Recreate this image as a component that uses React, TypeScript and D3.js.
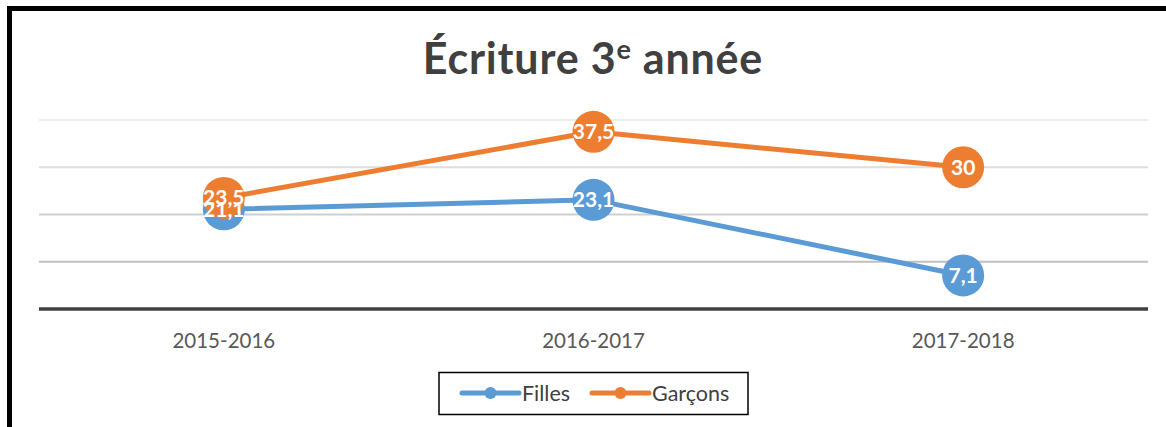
import React from "react";
import * as d3 from "d3";

const categories = ["2015-2016", "2016-2017", "2017-2018"];
const filles = [21.1, 23.1, 7.1];
const garcons = [23.5, 37.5, 30];
const yTicks = [0, 10, 20, 30, 40];
const seriesNames = ["Filles", "Garçons"];
const colors = ["#5B9BD5", "#ED7D31"];

const W = 1166;
const H = 427;
const FONT = "Lato, 'Open Sans', sans-serif";

export default function App() {
  const x = d3.scaleBand<string>().domain(categories).range([39, 1148]);
  const y = d3.scaleLinear().domain([0, 40]).range([309, 120]);
  const cx = (c: string) => (x(c) as number) + x.bandwidth() / 2;
  const line = d3
    .line<number>()
    .x((_, i) => cx(categories[i]))
    .y((d) => y(d));
  const series = [filles, garcons];
  const fmt = (v: number) => String(v).replace(".", ",");
  const gridColors = ["#404040", "#bfbfbf", "#cfcfcf", "#dedede", "#ececec"];

  return (
    <div style={{ position: "fixed", left: 0, top: 0 }}>
      <svg width={W} height={H} style={{ display: "block", background: "#fff" }}>
        <rect x={7} y={6} width={W + 20} height={H + 20} fill="#fff" stroke="#000" strokeWidth={5} transform="translate(2.5,2.5)" />
        <text x={593} y={74} textAnchor="middle" fontFamily={FONT} fontWeight={700} fontSize={43} letterSpacing={0.8} fill="#404040">
          Écriture 3
          <tspan fontSize={27} dy={-15}>e</tspan>
          <tspan dy={15}> année</tspan>
        </text>
        {yTicks.slice(1).map((t, i) => (
          <line key={t} x1={39} x2={1148} y1={y(t)} y2={y(t)} stroke={gridColors[i + 1]} strokeWidth={2} />
        ))}
        <line x1={39} x2={1148} y1={y(0)} y2={y(0)} stroke="#404040" strokeWidth={3.5} />
        {categories.map((c) => (
          <text key={c} x={cx(c)} y={348} textAnchor="middle" fontFamily={FONT} fontSize={20.5} fill="#595959">
            {c}
          </text>
        ))}
        {series.map((s, si) => (
          <g key={si}>
            <path d={line(s) as string} fill="none" stroke={colors[si]} strokeWidth={5} strokeLinejoin="round" />
            {s.map((v, i) => (
              <circle key={i} cx={cx(categories[i])} cy={y(v)} r={21} fill={colors[si]} />
            ))}
          </g>
        ))}
        {series.map((s, si) =>
          s.map((v, i) => (
            <text key={`${si}-${i}`} x={cx(categories[i])} y={y(v) + 7.5} textAnchor="middle" fontFamily={FONT} fontWeight={700} fontSize={21} fill="#fff">
              {fmt(v)}
            </text>
          ))
        )}
        <rect x={439} y={372.5} width={309} height={42} fill="#fff" stroke="#000" strokeWidth={1.5} />
        {seriesNames.map((n, i) => {
          const x0 = 462 + i * 130;
          return (
            <g key={n}>
              <line x1={x0} x2={x0 + 57} y1={393} y2={393} stroke={colors[i]} strokeWidth={5} strokeLinecap="round" />
              <circle cx={x0 + 28.5} cy={393} r={6} fill={colors[i]} />
              <text x={x0 + 60} y={400.5} fontFamily={FONT} fontSize={21.5} fill="#404040">
                {n}
              </text>
            </g>
          );
        })}
      </svg>
    </div>
  );
}
